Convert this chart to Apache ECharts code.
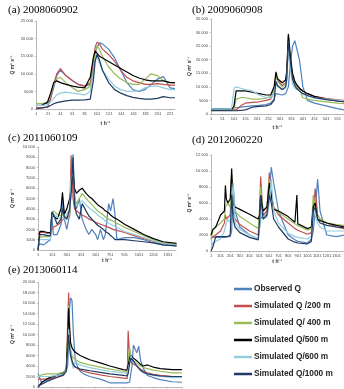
<!DOCTYPE html>
<html><head><meta charset="utf-8">
<script src="https://cdn.jsdelivr.net/npm/echarts@6/dist/echarts.min.js"></script>
<style>html,body{margin:0;padding:0;background:#fff}#c{width:344px;height:389px}</style>
</head><body><div id="c"></div>
<script>
// ---- names, colours, titles ----
const seriesNames = ['Observed Q','Simulated Q /200 m','Simulated Q/ 400 m','Simulated Q/500 m','Simulated Q/600 m','Simulated Q/1000 m'];
const seriesColors = ['#4F81BD','#C0504D','#9BBB59','#000000','#93CDDD','#1F3A64'];
const panelTitles = ['(a) 2008060902','(b) 2009060908','(c) 2011060109','(d) 2012060220','(e) 2013060114'];

// ---- panel (a) ----
const tA = [1,10,20,25,30,35,41,50,61,70,81,90,95,98,101,105,110,120,130,140,150,160,170,180,190,200,210,221,229];
const aObs = [1500,1500,1500,3000,6000,9500,11000,9500,8000,7000,6500,7000,12000,16000,17500,18800,18500,17000,14500,11000,7500,5500,5000,5500,7000,8500,9200,6000,5800];
const a200 = [500,300,500,3000,7000,10000,11500,9500,8000,7000,6500,7500,13000,17500,19000,18500,17000,15500,13500,11000,9000,8000,7500,7000,7000,7200,7000,6800,6800];
const a400 = [1500,1500,2000,4000,7000,8500,9000,7500,6000,5000,5500,6500,11000,16000,18000,17000,15000,12000,10000,8500,7500,7000,7000,8500,10000,9500,8000,7500,7500];
const a500 = [1000,1000,2000,4500,7500,8000,7500,7000,6500,6200,6000,9000,14500,16500,16000,15000,14500,13500,12500,11500,10500,9500,8800,8300,8000,8000,8000,7500,7500];
const a600 = [1000,1000,1200,2000,3000,4000,4500,4800,4500,4300,4000,5000,10000,14000,15000,13000,11000,8500,6500,5500,5000,5000,5200,6000,6500,6500,6000,5500,5500];
const a1000 = [0,300,600,1000,1500,1800,2000,2300,2500,2500,2600,2800,8000,13500,15500,14000,11000,7500,5500,4500,3800,3300,3000,2800,2800,3000,3500,3200,3200];

// ---- panel (b) ----
const tB = [1,50,90,101,110,130,150,180,210,240,260,275,283,290,310,325,330,337,345,355,365,372,385,400,420,450,500,550,580];
const bObs = [2000,2000,2000,2200,2300,2500,2700,3000,3200,3500,4000,5500,7500,7000,7000,7500,8000,10000,18000,25000,27000,26500,20000,10000,5000,4000,3000,2000,1500];
const b200 = [1500,1500,1500,1500,1500,3000,4000,4300,4500,5000,5500,8000,14500,12500,10500,11500,15000,29000,20000,14000,11500,10500,9500,8500,7500,6500,5800,5200,5000];
const b400 = [1500,1500,1500,2000,5500,6000,6000,5500,5500,5800,6500,9000,14000,12000,10000,11000,14000,27000,20000,13500,11000,10000,9000,6000,5500,5000,4500,4000,3800];
const b500 = [1500,1500,1500,3000,8500,8500,8500,8000,7500,7000,7000,10000,15500,13000,11500,12500,16000,29500,22000,15000,12000,11000,9500,8500,7500,6500,5500,4800,4500];
const b600 = [1800,1800,1800,9500,10000,9500,9000,8500,7000,6000,6000,8000,11000,10000,9000,9500,12000,24000,17000,11000,9500,9000,8500,7500,6500,6000,5500,5000,4800];
const b1000 = [1200,1200,1200,1200,1200,1300,1500,2500,2800,3000,3500,5000,12000,10500,9000,10000,13000,27000,20000,13000,10500,9500,8500,7500,6800,6000,5300,4800,4500];

// ---- panel (c) ----
const tC = [1,20,60,100,130,145,160,200,240,255,275,300,330,345,365,380,400,430,460,500,530,560,600,620,650,680,700,735,755,780,800,820,900,1000,1100,1200,1300,1440];
const cObs = [300,600,500,800,1000,3500,1500,1500,2500,4800,3000,2000,3500,6000,9300,5500,4000,5000,3000,2000,1500,2000,1500,1000,2000,1000,1500,4500,3800,5000,3500,1000,1200,1200,1000,700,500,400];
const c200 = [1500,1700,1700,1600,1600,2000,2200,2400,2700,2900,3000,3200,3300,9200,5000,4000,3800,3600,3400,3200,3000,2900,2700,2600,2500,2400,2300,2200,2100,2000,2000,1900,1700,1400,1100,850,600,450];
const c400 = [1200,1300,1300,1300,1300,3500,3800,3500,3300,3500,3200,3000,3500,6500,8000,5000,4500,5000,5500,5000,4700,4400,4000,3800,3600,3400,3200,3000,2900,2800,2700,2600,2200,1800,1400,1000,700,550];
const c500 = [0,1800,1800,1700,1700,3500,3300,3000,4000,5600,3500,4000,5000,6000,7500,6000,5500,5800,6000,5500,5200,5000,4600,4400,4200,4000,3800,3600,3400,3200,3100,3000,2500,2000,1500,1100,800,650];
const c600 = [500,1000,1000,1000,1000,3300,3500,3200,3000,3200,3000,3500,4000,7000,7500,4500,4300,4500,4800,4400,4100,3900,3600,3400,3200,3000,2800,2600,2500,2400,2300,2200,1800,1500,1200,900,600,450];
const c1000 = [0,1500,1500,1400,1400,3700,3500,2500,3000,4000,3200,3000,4000,5500,9000,4500,3500,3000,4500,3800,3300,3000,2600,2400,2200,2000,1800,1600,1400,1200,1000,1000,1000,900,800,700,500,400];

// ---- panel (d) ----
const tD = [1,20,50,100,140,150,160,175,200,215,230,250,300,400,490,505,515,540,580,605,625,650,700,800,870,890,900,1000,1040,1060,1080,1105,1130,1200,1300,1380];
const dObs = [1700,1700,1700,1700,1700,1800,1800,1800,1800,2500,8500,5000,3000,2000,1500,1500,4000,4500,4500,7000,10500,8500,5000,2000,1400,1300,1200,1000,1500,2500,5000,9000,5000,2000,1800,2000];
const d200 = [1500,1800,2000,2500,3500,4500,4000,4200,4500,8500,5000,4000,3300,2500,2000,5000,9300,4500,5000,9800,7000,5500,4500,3500,2800,2700,2600,2100,2300,5000,7800,4500,4000,3500,3000,2800];
const d400 = [1500,2500,3000,3500,4000,5500,5500,6000,5500,9500,6000,5000,4300,3500,2800,5500,8000,5000,5500,9000,7000,5500,4800,4000,3400,3300,3200,2600,2800,7000,5500,4500,4000,3500,3300,3200];
const d500 = [2000,2700,3000,4500,5000,8200,6500,6000,6500,10300,6000,5500,5200,4600,4000,4500,7000,5000,5500,8500,7000,5200,5000,4300,3600,7000,3400,2800,3000,5500,6000,4000,3800,3500,3200,3000];
const d600 = [500,1000,1200,1500,2500,3000,3500,4000,3500,6000,8500,3500,2700,2000,1500,3000,5000,4000,4200,6000,9000,5000,3500,2200,1800,1700,1700,1500,1800,5000,4500,3500,3000,2500,2500,2500];
const d1000 = [0,500,1800,1800,1800,1800,1800,1800,2000,7000,4000,3000,2300,1700,1400,4000,7000,4000,4500,7000,6000,4000,3000,1500,1100,1000,1000,900,1200,5000,5500,4000,3500,3200,3000,2900];

// ---- panel (e) ----
const tE = [1,35,90,125,195,265,295,310,320,330,340,355,370,390,410,440,475,540,650,750,890,930,940,955,970,980,995,1030,1050,1070,1100,1140,1200,1275,1400,1500];
const eObs = [2600,1000,1200,1500,2200,2700,3000,4000,8000,15000,17000,16500,10000,5000,4000,3000,2500,2000,1500,800,800,800,800,900,1000,4000,8000,6500,7800,5000,3500,2200,1800,1400,1000,900];
const e200 = [1500,1500,1500,1600,1800,2200,3000,12000,18000,12000,7000,5000,4200,3800,3500,3200,3000,2700,2300,2000,1700,1600,10700,6000,5000,4500,4200,4000,3700,3400,3000,2700,2400,2200,2000,2000];
const e400 = [2000,2300,2500,2500,2500,2800,3500,10000,15500,10000,7000,6000,5500,5200,5000,4700,4500,4200,3800,3400,3000,2900,5000,7500,6000,5500,5000,4500,4200,4000,3700,3500,3200,3000,2700,2700];
const e500 = [0,800,1500,1800,2200,2600,3000,9000,15000,11000,8500,7500,7000,6600,6300,6000,5700,5200,4600,4000,3300,3200,3500,5500,6000,5800,5500,5000,4700,4300,4000,4200,3800,3500,3300,3300];
const e600 = [2000,2000,2000,2000,2200,2500,3000,6000,11000,8000,6000,4500,3500,5000,4500,4200,4000,3700,3300,3000,2700,2600,2800,4500,6000,5500,4800,4000,3500,3000,2700,2500,2200,2000,1800,1800];
const e1000 = [0,500,1000,1300,1800,2300,3000,7000,10000,7500,6000,5000,4200,3800,3600,3400,3300,3100,2800,2500,2200,2100,2500,4500,5500,5300,5000,4000,3600,3200,2800,2500,2300,2100,2000,2000];

// ---- axis scales ----
const xMaxes = [228, 576, 1433, 1372, 1500];
const xSteps = [20, 50, 150, 100, 150];
const yMaxes = [25000, 35000, 10000, 12000, 20000];
const ySteps = [5000, 5000, 1000, 2000, 2000];

const panels = [
  {t:tA, v:[aObs,a200,a400,a500,a600,a1000]},
  {t:tB, v:[bObs,b200,b400,b500,b600,b1000]},
  {t:tC, v:[cObs,c200,c400,c500,c600,c1000]},
  {t:tD, v:[dObs,d200,d400,d500,d600,d1000]},
  {t:tE, v:[eObs,e200,e400,e500,e600,e1000]}
];

// ---- layout (pixels) ----
const grids = [
  {left:36, top:21, width:139, height:88},
  {left:211, top:19, width:133, height:95},
  {left:38, top:147, width:138, height:103},
  {left:211, top:155, width:133, height:96},
  {left:38, top:282, width:144, height:105}
];
const yNameGaps = [21, 18, 23, 15, 23];
const xNameGaps = [12, 11, 8, 8, 8];
const titlePos = [[8,5],[192,5],[8,133],[192,135],[8,265]];

const axisColor = '#A6A6A6';
const labelFont = 'Liberation Sans';
const fmtY = v => v >= 10000 ? (Math.round(v/1000) + ' 000') : String(v);

const option = {
  animation: false,
  backgroundColor: '#fff',
  title: panelTitles.map((tx, i) => ({
    text: tx, left: titlePos[i][0], top: titlePos[i][1], padding: 0,
    textStyle: {fontFamily: 'Liberation Serif', fontWeight: 'normal', fontSize: 11, color: '#000'}
  })),
  grid: grids.map(g => Object.assign({containLabel: false}, g)),
  xAxis: grids.map((g, i) => ({
    type: 'value', gridIndex: i, min: 0, max: xMaxes[i], interval: xSteps[i],
    name: i < 4 ? 't h\u207B\u00B9' : '', nameLocation: 'middle', nameGap: xNameGaps[i],
    nameTextStyle: {fontSize: 5, fontWeight: 'bold', color: '#333', fontFamily: labelFont},
    axisLine: {show: true, lineStyle: {color: axisColor, width: 0.8}},
    axisTick: {show: true, length: 1.5, lineStyle: {color: axisColor, width: 0.6}},
    axisLabel: {show: i < 4, fontSize: 4, color: '#444', margin: 3, fontFamily: labelFont,
      showMaxLabel: false,
      formatter: v => (v % xSteps[i] === 0 ? String(v + 1) : '')},
    splitLine: {show: false}
  })),
  yAxis: grids.map((g, i) => ({
    type: 'value', gridIndex: i, min: 0, max: yMaxes[i], interval: ySteps[i],
    name: 'Q m\u00B3 s\u207B\u00B9', nameLocation: 'middle', nameRotate: 90, nameGap: yNameGaps[i],
    nameTextStyle: {fontSize: 5, fontWeight: 'bold', color: '#333', fontFamily: labelFont},
    axisLine: {show: true, lineStyle: {color: axisColor, width: 0.8}},
    axisTick: {show: true, length: 1.5, lineStyle: {color: axisColor, width: 0.6}},
    axisLabel: {fontSize: 4, color: '#444', margin: 3, fontFamily: labelFont, formatter: fmtY},
    splitLine: {show: false}
  })),
  legend: {
    orient: 'vertical', left: 234, top: 283, padding: 0, itemWidth: 18, itemHeight: 2.5, itemGap: 5,
    icon: 'rect', selectedMode: false, data: seriesNames,
    textStyle: {fontFamily: 'Liberation Sans', fontWeight: 'bold', fontSize: 8.3,
      color: '#262626', lineHeight: 12, padding: [0, 0, 0, -3]}
  },
  series: []
};

panels.forEach((p, pi) => {
  p.v.forEach((vals, si) => {
    option.series.push({
      type: 'line', name: seriesNames[si], xAxisIndex: pi, yAxisIndex: pi,
      data: p.t.map((t, k) => [t - 1, vals[k]]),
      showSymbol: false, symbol: 'none', clip: true,
      lineStyle: {width: 1.2, color: seriesColors[si]},
      itemStyle: {color: seriesColors[si]}
    });
  });
});

const chart = echarts.init(document.getElementById('c'), null, {renderer: 'canvas'});
chart.setOption(option);
</script>
</body></html>
